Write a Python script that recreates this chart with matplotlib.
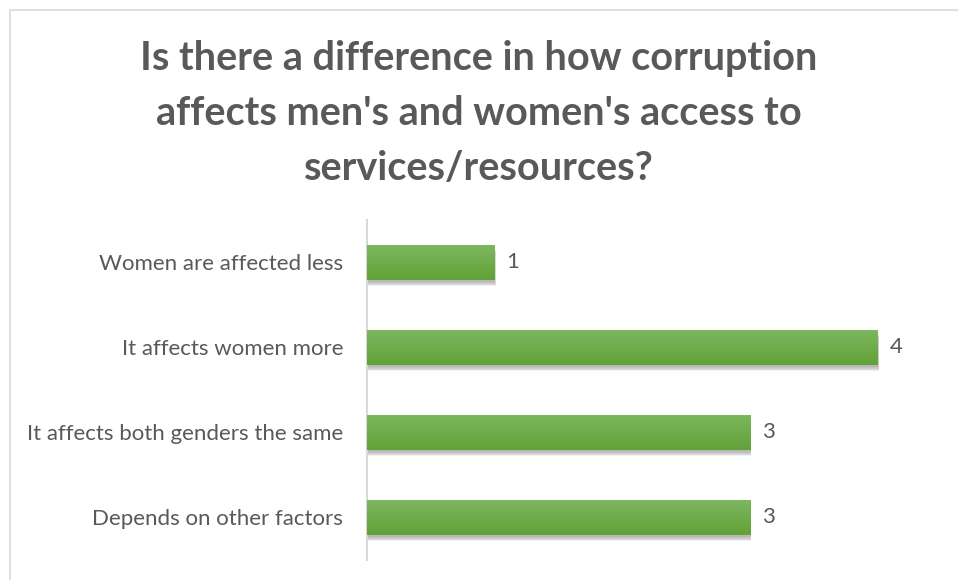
import matplotlib.pyplot as plt
import matplotlib.patches as mpatches
import numpy as np

categories = ["Women are affected less", "It affects women more",
              "It affects both genders the same", "Depends on other factors"]
counts = [1, 4, 3, 3]

title = ("Is there a difference in how corruption\n"
         "affects men's and women's access to\n"
         "services/resources?")

text_color = "#595959"
top_green = np.array([0x7d, 0xb7, 0x5e]) / 255
bottom_green = np.array([0x62, 0xa1, 0x38]) / 255

plt.rcParams['font.family'] = ['Lato', 'DejaVu Sans']

fig = plt.figure(figsize=(9.58, 5.8), dpi=100)

# chart border
fig.patches.append(mpatches.Rectangle((10 / 958, -0.1), 1.1, 1 - 10 / 580 + 0.1,
                                      transform=fig.transFigure, fill=False,
                                      edgecolor="#d9d9d9", linewidth=1.2))

fig.text(0.5, 0.805, title, ha="center", va="center", fontsize=28.5,
         fontweight="bold", color=text_color, linespacing=1.6)

ax = fig.add_axes([0.383, 0.0345, 0.6, 0.5862])

bar_h = 0.41
grad = np.linspace(0, 1, 64)[:, None, None]
grad_img = top_green * (1 - grad) + bottom_green * grad

for i, v in enumerate(counts):
    y0 = i - bar_h / 2
    # soft drop shadow
    for k in range(6):
        off = 0.012 + k * 0.006
        ax.add_patch(mpatches.Rectangle((0, y0 + off * 1.8), v + off * 0.25, bar_h,
                                        facecolor="black", edgecolor="none",
                                        alpha=0.05, zorder=1))
    rect = mpatches.Rectangle((0, y0), v, bar_h, facecolor="none",
                              edgecolor="none", zorder=2)
    ax.add_patch(rect)
    im = ax.imshow(grad_img, extent=(0, v, y0 + bar_h, y0), aspect="auto",
                   zorder=3, interpolation="bilinear")
    im.set_clip_path(rect)
    ax.text(v + 0.09, i, str(v), va="center", ha="left", fontsize=16,
            color=text_color)

ax.set_xlim(0, 4.5)
ax.set_ylim(len(categories) - 0.5, -0.5)
ax.set_yticks(range(len(categories)))
ax.set_yticklabels(categories, fontsize=16, color=text_color)
ax.tick_params(axis="y", length=0, pad=17)
ax.set_xticks([])
for side in ["top", "right", "bottom"]:
    ax.spines[side].set_visible(False)
ax.spines["left"].set_color("#d9d9d9")
ax.spines["left"].set_linewidth(1.5)

fig.savefig("out.png", dpi=100)
